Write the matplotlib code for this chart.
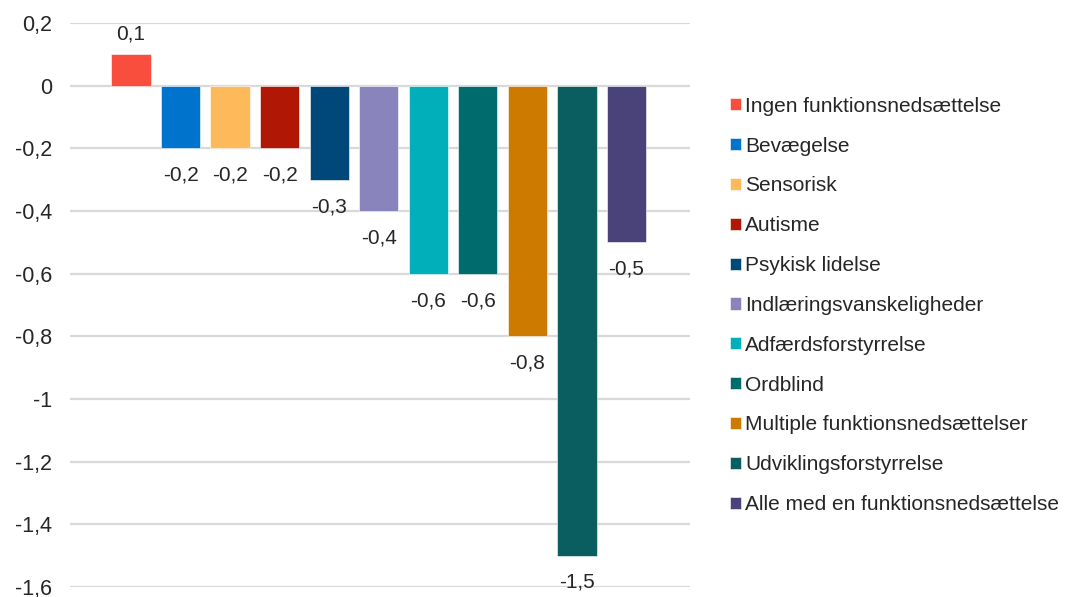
import numpy as np
import matplotlib.pyplot as plt

categories = [
    'Ingen funktionsnedsættelse', 'Bevægelse', 'Sensorisk', 'Autisme',
    'Psykisk lidelse', 'Indlæringsvanskeligheder', 'Adfærdsforstyrrelse',
    'Ordblind', 'Multiple funktionsnedsættelser', 'Udviklingsforstyrrelse',
    'Alle med en funktionsnedsættelse',
]
values = [0.1, -0.2, -0.2, -0.2, -0.3, -0.4, -0.6, -0.6, -0.8, -1.5, -0.5]
colors = ['#F94D3D', '#0073CD', '#FDB95A', '#B01705', '#00477A', '#8A84BD',
          '#00AFB9', '#006B6C', '#CC7A00', '#0B5E5F', '#49437A']
yticks = [0.2, 0, -0.2, -0.4, -0.6, -0.8, -1, -1.2, -1.4, -1.6]

plt.rcParams['font.family'] = ['Liberation Sans', 'DejaVu Sans']

def fmt(v):
    return ('%g' % round(v, 2)).replace('.', ',')

fig = plt.figure(figsize=(10.67, 5.97), dpi=100)
ax = fig.add_axes([0.0656, 0.0168, 0.581, 0.9447])

x = np.arange(len(values))
bars = ax.bar(x, values, width=0.79, color=colors, edgecolor='white',
              linewidth=0.4, zorder=3)

for xi, v in zip(x, values):
    if v >= 0:
        ax.annotate(fmt(v), (xi, v), xytext=(0, 8), textcoords='offset points',
                    ha='center', va='bottom', fontsize=15, color='#262626')
    else:
        ax.annotate(fmt(v), (xi, v), xytext=(0, -12.5), textcoords='offset points',
                    ha='center', va='top', fontsize=15, color='#262626')

ax.set_xlim(-1.23, 11.28)
ax.set_ylim(-1.6, 0.2)
ax.set_yticks(yticks)
ax.set_yticklabels([fmt(t) for t in yticks])
ax.set_xticks([])
ax.yaxis.grid(True, color='#D9D9D9', linewidth=1.6, zorder=0)
ax.set_axisbelow(True)
ax.tick_params(axis='y', length=0, pad=13, labelsize=15.5, labelcolor='#262626')
for s in ax.spines.values():
    s.set_visible(False)

fig.legend(bars, categories, loc='upper left', bbox_to_anchor=(0.684, 0.838),
           frameon=False, fontsize=15, handlelength=0.53, handleheight=0.53,
           handletextpad=0.22, labelspacing=1.0, borderpad=0, borderaxespad=0,
           labelcolor='#262626')

fig.savefig('out.png', dpi=100)
